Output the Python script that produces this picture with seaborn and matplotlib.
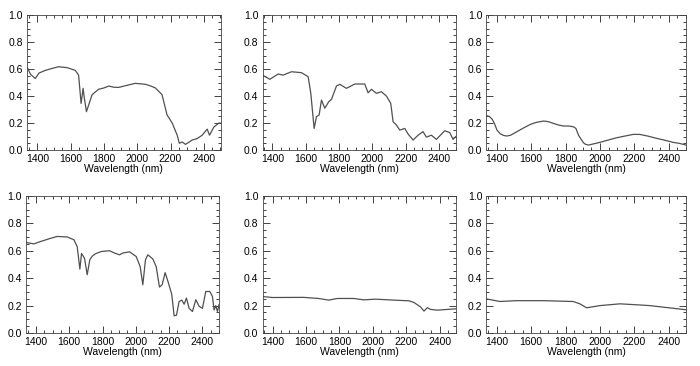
import numpy as np
import pandas as pd
import matplotlib
matplotlib.use("Agg")
import matplotlib.pyplot as plt
from matplotlib.ticker import MultipleLocator
import seaborn as sns

# Espectros (comprimento de onda em nm, reflectancia)
wl_a = [1340, 1360, 1388, 1410, 1448, 1490, 1528, 1580, 1628, 1648, 1663, 1675, 1683, 1695, 1729, 1768,
        1800, 1829, 1860, 1889, 1940, 1989, 2049, 2080, 2109, 2149, 2165, 2179, 2195, 2210, 2240,
        2253, 2270, 2290, 2330, 2360, 2390, 2420, 2434, 2460, 2490, 2500]
ref_a = [0.61, 0.56, 0.53, 0.57, 0.59, 0.605, 0.617, 0.61, 0.59, 0.555, 0.345, 0.457, 0.38, 0.284, 0.41, 0.45,
         0.46, 0.474, 0.465, 0.464, 0.48, 0.494, 0.487, 0.475, 0.46, 0.41, 0.33, 0.26, 0.23, 0.2, 0.11,
         0.05, 0.06, 0.042, 0.074, 0.085, 0.11, 0.155, 0.11, 0.17, 0.2, 0.2]

wl_b = [1340, 1384, 1434, 1464, 1514, 1574, 1614, 1630, 1650, 1664, 1680, 1694, 1714, 1738, 1754,
        1784, 1804, 1844, 1894, 1954, 1974, 1994, 2024, 2054, 2084, 2110, 2124, 2144, 2164, 2194,
        2214, 2244, 2274, 2304, 2324, 2354, 2384, 2434, 2464, 2484, 2500]
ref_b = [0.555, 0.524, 0.563, 0.555, 0.58, 0.573, 0.543, 0.42, 0.16, 0.247, 0.26, 0.37, 0.31, 0.358, 0.375,
         0.474, 0.487, 0.457, 0.489, 0.489, 0.424, 0.45, 0.42, 0.432, 0.4, 0.346, 0.21, 0.185, 0.148, 0.16,
         0.119, 0.074, 0.11, 0.136, 0.096, 0.11, 0.079, 0.143, 0.13, 0.079, 0.1]

wl_c = [1340, 1355, 1372, 1385, 1401, 1420, 1440, 1459, 1480, 1517, 1550, 1595, 1630, 1672, 1700,
        1730, 1760, 1788, 1820, 1846, 1860, 1875, 1890, 1904, 1915, 1933, 1960, 1999, 2050, 2096,
        2150, 2193, 2231, 2280, 2328, 2380, 2425, 2460, 2500]
ref_c = [0.254, 0.25, 0.23, 0.2, 0.148, 0.12, 0.108, 0.104, 0.11, 0.136, 0.16, 0.19, 0.205, 0.215, 0.21,
         0.197, 0.185, 0.178, 0.178, 0.172, 0.16, 0.11, 0.08, 0.054, 0.043, 0.037, 0.045, 0.057, 0.075, 0.091,
         0.105, 0.116, 0.116, 0.103, 0.087, 0.072, 0.057, 0.05, 0.037]

wl_d = [1340, 1388, 1428, 1488, 1528, 1588, 1628, 1648, 1664, 1674, 1692, 1708, 1724, 1738, 1758,
        1792, 1842, 1872, 1902, 1922, 1962, 2002, 2026, 2042, 2058, 2072, 2102, 2122, 2142, 2158,
        2176, 2196, 2216, 2230, 2244, 2260, 2276, 2290, 2304, 2320, 2340, 2360, 2380, 2400, 2420,
        2444, 2460, 2470, 2480, 2490, 2500]
ref_d = [0.66, 0.65, 0.667, 0.69, 0.704, 0.7, 0.68, 0.63, 0.466, 0.58, 0.545, 0.425, 0.535, 0.56, 0.578,
         0.594, 0.6, 0.583, 0.57, 0.583, 0.592, 0.558, 0.485, 0.352, 0.534, 0.57, 0.54, 0.485, 0.335, 0.352,
         0.44, 0.364, 0.28, 0.126, 0.13, 0.23, 0.24, 0.21, 0.255, 0.18, 0.157, 0.243, 0.195, 0.18, 0.303,
         0.303, 0.267, 0.168, 0.2, 0.157, 0.21]

wl_e = [1340, 1400, 1586, 1676, 1736, 1786, 1886, 1946, 2016, 2126, 2216, 2246, 2286, 2306, 2326,
        2346, 2386, 2500]
ref_e = [0.266, 0.259, 0.26, 0.252, 0.24, 0.252, 0.252, 0.242, 0.247, 0.24, 0.235, 0.223, 0.19, 0.16, 0.185,
         0.172, 0.167, 0.177]

wl_f = [1340, 1418, 1515, 1670, 1844, 1883, 1922, 1999, 2116, 2213, 2290, 2387, 2500]
ref_f = [0.249, 0.23, 0.236, 0.236, 0.23, 0.213, 0.184, 0.2, 0.213, 0.206, 0.2, 0.186, 0.17]

sns.set_style("ticks")
plt.rcParams['font.family'] = ['Liberation Sans', 'DejaVu Sans']

fig = plt.figure(figsize=(7, 3.66), dpi=100)

# posicoes dos paineis [esquerda, baixo, largura, altura]
rects = [
    [0.039, 0.590, 0.276, 0.369],
    [0.375, 0.590, 0.276, 0.369],
    [0.695, 0.590, 0.285, 0.369],
    [0.037, 0.090, 0.276, 0.375],
    [0.375, 0.090, 0.277, 0.375],
    [0.695, 0.090, 0.285, 0.375],
]
espectros = [(wl_a, ref_a), (wl_b, ref_b), (wl_c, ref_c),
             (wl_d, ref_d), (wl_e, ref_e), (wl_f, ref_f)]

for rect, (wl, ref) in zip(rects, espectros):
    ax = fig.add_axes(rect)
    df = pd.DataFrame({'wl': wl, 'ref': ref})
    sns.lineplot(data=df, x='wl', y='ref', ax=ax, color='#505050', linewidth=0.9)
    ax.set_xlim(1340, 2500)
    ax.set_ylim(0, 1.0)
    ax.set_xticks([1400, 1600, 1800, 2000, 2200, 2400])
    ax.set_yticks([0.0, 0.2, 0.4, 0.6, 0.8, 1.0])
    ax.set_yticklabels(['0.0', '0.2', '0.4', '0.6', '0.8', '1.0'])
    ax.xaxis.set_minor_locator(MultipleLocator(50))
    ax.yaxis.set_minor_locator(MultipleLocator(0.05))
    ax.tick_params(which='both', direction='in', top=True, right=True,
                   labelsize=7.5, colors='#222222', labelcolor='black', width=0.6, pad=3)
    ax.tick_params(which='major', length=5)
    ax.tick_params(which='minor', length=2.3)
    for s in ax.spines.values():
        s.set_linewidth(0.6)
        s.set_color('#444444')
    ax.set_xlabel('Wavelength (nm)', fontsize=7.5, labelpad=0, color='black')
    ax.set_ylabel('')

fig.savefig('out.png', dpi=100)
